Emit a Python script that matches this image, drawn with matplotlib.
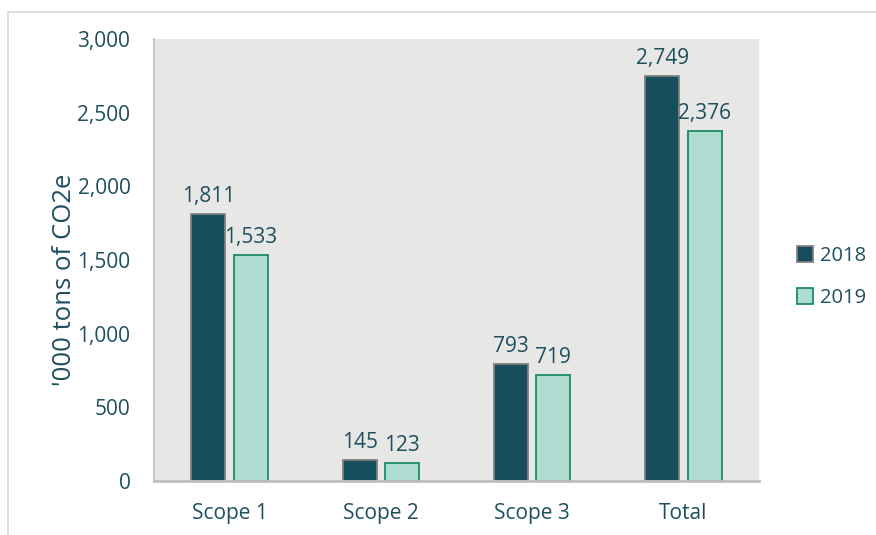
import matplotlib
matplotlib.use('Agg')
import matplotlib.pyplot as plt
import numpy as np
from matplotlib.lines import Line2D

plt.rcParams['font.family'] = ['Open Sans', 'DejaVu Sans']

categories = ['Scope 1', 'Scope 2', 'Scope 3', 'Total']
years = ['2018', '2019']
emissions_2018 = [1811, 145, 793, 2749]
emissions_2019 = [1533, 123, 719, 2376]
y_ticks = [0, 500, 1000, 1500, 2000, 2500, 3000]

text_color = '#1d4f5e'

fig = plt.figure(figsize=(8.76, 5.35), dpi=100)
ax = fig.add_axes([154 / 876, 1 - 481 / 535, (759 - 154) / 876, (481 - 39) / 535])

# outer chart frame
fig.add_artist(Line2D([8 / 876, 8 / 876], [0, 1 - 12 / 535], transform=fig.transFigure,
                      color='#d9d9d9', lw=1.2))
fig.add_artist(Line2D([8 / 876, 1], [1 - 12 / 535, 1 - 12 / 535], transform=fig.transFigure,
                      color='#d9d9d9', lw=1.2))

x = np.arange(len(categories))
w = 0.225
off = 0.14
b1 = ax.bar(x - off, emissions_2018, w, color='#174e5c', edgecolor='#808080', lw=1.3, label=years[0])
b2 = ax.bar(x + off, emissions_2019, w, color='#b0ddd2', edgecolor='#1b8a68', lw=1.3, label=years[1])

for bars, vals in ((b1, emissions_2018), (b2, emissions_2019)):
    for r, v in zip(bars, vals):
        ax.annotate(f'{v:,}', (r.get_x() + r.get_width() / 2, v), xytext=(0, 5),
                    textcoords='offset points', ha='center', va='bottom',
                    fontsize=15, color=text_color)

ax.set_facecolor('#e7e7e6')
ax.set_xlim(-0.5, 3.5)
ax.set_ylim(0, 3000)
ax.set_yticks(y_ticks)
ax.set_yticklabels([f'{t:,}' for t in y_ticks])
ax.set_xticks(x)
ax.set_xticklabels(categories)
ax.tick_params(length=0, labelsize=15, colors=text_color)
ax.tick_params(axis='y', pad=17)
ax.tick_params(axis='x', pad=16)
for s in ('top', 'right'):
    ax.spines[s].set_visible(False)
ax.spines['left'].set_color('#c8c8c8')
ax.spines['left'].set_linewidth(1.5)
ax.spines['bottom'].set_color('#bfbfbf')
ax.spines['bottom'].set_linewidth(2)
ax.set_ylabel("'000 tons of CO2e", fontsize=18.5, color=text_color)
ax.yaxis.set_label_coords(-0.128, 0.455)

leg = fig.legend(handles=[b1, b2], labels=years, loc='center left',
                 bbox_to_anchor=(797 / 876, 1 - 277 / 535), frameon=False,
                 borderpad=0, borderaxespad=0,
                 fontsize=14.5, labelspacing=1.1, handlelength=0.8, handleheight=0.8,
                 handletextpad=0.35)
for t in leg.get_texts():
    t.set_color(text_color)

fig.savefig('out.png', dpi=100)
